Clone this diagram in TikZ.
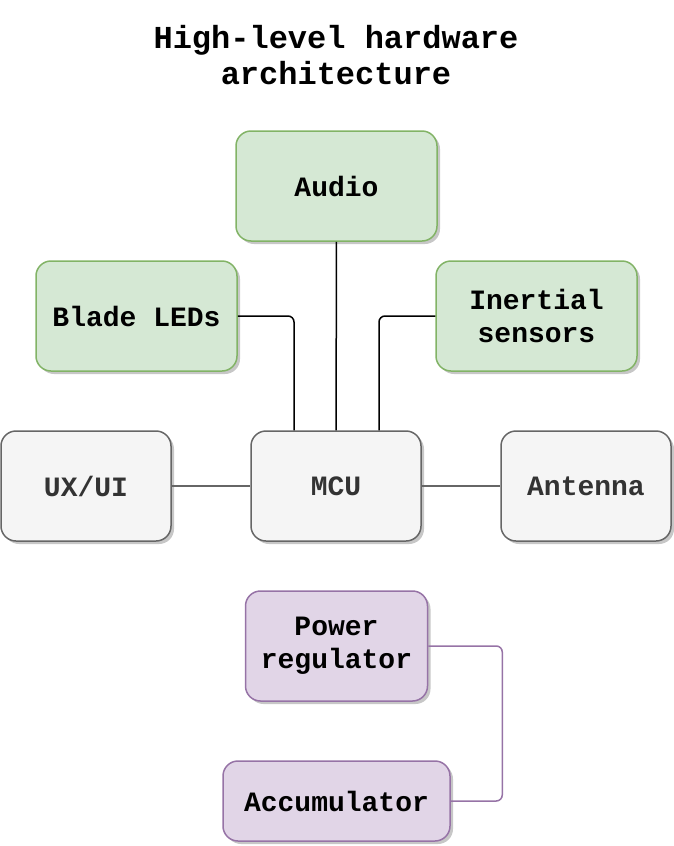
\documentclass[tikz,border=0pt]{standalone}
\usepackage{fontspec}
\setmainfont{Liberation Mono}
\usetikzlibrary{shadows}

\definecolor{greenfill}{HTML}{D5E8D4}
\definecolor{greenline}{HTML}{82B366}
\definecolor{grayfill}{HTML}{F5F5F5}
\definecolor{grayline}{HTML}{666666}
\definecolor{graytext}{HTML}{333333}
\definecolor{purplefill}{HTML}{E1D5E7}
\definecolor{purpleline}{HTML}{9673A6}

\begin{document}
\begin{tikzpicture}[x=1pt,y=-1pt,
    font=\bfseries\fontsize{28}{33}\selectfont,
    box/.style={draw, rounded corners=15pt, line width=1.5pt, align=center,
      inner sep=0pt, minimum height=110pt,
      drop shadow={shadow xshift=3pt, shadow yshift=-3pt, fill=black, opacity=0.22}},
    wire/.style={line width=1.5pt, rounded corners=6pt}]

      \useasboundingbox (0,0) rectangle (674,846);

      \node[font=\bfseries\fontsize{32}{36}\selectfont, align=center] (title) at (336,55)
        {High-level hardware\\architecture};

      \begin{scope}[every node/.style={box, fill=greenfill, draw=greenline, minimum width=201pt}]
        \node (audio)    at (336.5,186) {Audio};
        \node (leds)     at (136.5,316) {Blade LEDs};
        \node (inertial) at (536.5,316) {Inertial\\sensors};
      \end{scope}

      \begin{scope}[every node/.style={box, fill=grayfill, draw=grayline, text=graytext, minimum width=170pt}]
        \node (ux)      at (86,486)  {UX/UI};
        \node (mcu)     at (336,486) {MCU};
        \node (antenna) at (586,486) {Antenna};
      \end{scope}

      \begin{scope}[every node/.style={box, fill=purplefill, draw=purpleline}]
        \node[minimum width=182pt] (power) at (336.5,646) {Power\\regulator};
        \node[minimum width=227pt, minimum height=80pt] (acc) at (336.5,801) {Accumulator};
      \end{scope}

      \begin{scope}[every path/.style={wire}]
        \draw (audio) -- (mcu);
        \draw (leds.east) -| ([xshift=-42pt]mcu.north);
        \draw (inertial.west) -| ([xshift=43pt]mcu.north);
        \draw[grayline] (ux) -- (mcu);
        \draw[grayline] (mcu) -- (antenna);
        \draw[purpleline] (power.east) -- ([xshift=74pt]power.east) |- (acc.east);
      \end{scope}

    \end{tikzpicture}
\end{document}
